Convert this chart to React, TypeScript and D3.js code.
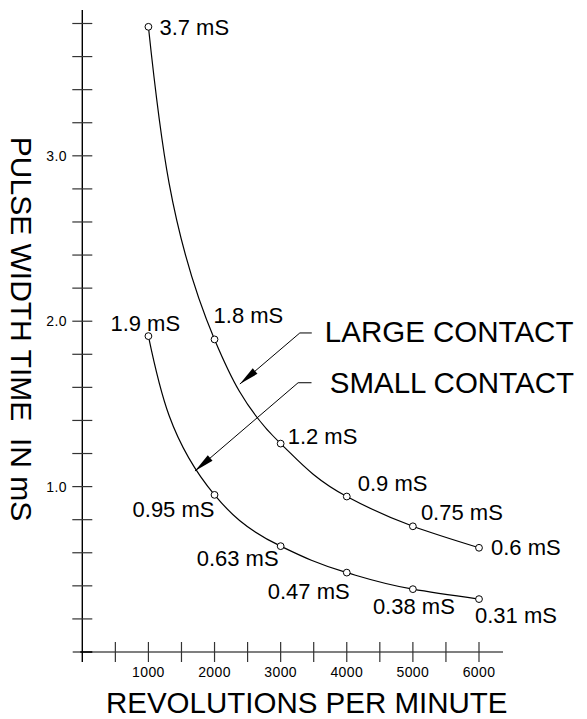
import React from 'react';
import * as d3 from 'd3';

const rpm = [1000, 2000, 3000, 4000, 5000, 6000];
const largeValues = [3.78, 1.89, 1.26, 0.94, 0.76, 0.63];
const smallValues = [1.91, 0.95, 0.64, 0.48, 0.38, 0.32];
const largeLabels = ['3.7 mS', '1.8 mS', '1.2 mS', '0.9 mS', '0.75 mS', '0.6 mS'];
const smallLabels = ['1.9 mS', '0.95 mS', '0.63 mS', '0.47 mS', '0.38 mS', '0.31 mS'];
const xTickValues = [500, 1000, 1500, 2000, 2500, 3000, 3500, 4000, 4500, 5000, 5500, 6000];
const xTickLabels = ['1000', '2000', '3000', '4000', '5000', '6000'];
const yTickValues = [0.2, 0.4, 0.6, 0.8, 1.0, 1.2, 1.4, 1.6, 1.8, 2.0, 2.2, 2.4, 2.6, 2.8, 3.0, 3.2, 3.4, 3.6, 3.8];
const yTickLabels = ['1.0', '2.0', '3.0'];
const seriesNames = ['LARGE CONTACT', 'SMALL CONTACT'];
// annotation anchors in data units: [tip rpm, tip value, elbow rpm, elbow value, end rpm, label rpm, label value]
const largeAnnotation = [2383, 1.62, 3290, 1.929, 3471, 3668, 1.876];
const smallAnnotation = [1704, 1.094, 3264, 1.628, 3467, 3743, 1.564];

// layout: label offsets in px relative to the point (dx, dy of baseline)
const largeOffsets = [[11, 8], [-1, -16], [7, 0], [11, -6], [8, -6], [12, 7]];
const smallOffsets = [[-38, -5], [-82, 22], [-84, 20], [-79, 26], [-40, 25], [-4, 24]];

const W = 587;
const H = 719;
const FONT = '"Liberation Sans", Arial, Helvetica, sans-serif';

export default function App() {
  const x = d3.scaleLinear().domain([0, 6000]).range([82.3, 479]);
  const y = d3.scaleLinear().domain([0, 3.8]).range([652, 23.5]);

  const line = d3
    .line<[number, number]>()
    .x((d) => x(d[0]))
    .y((d) => y(d[1]))
    .curve(d3.curveMonotoneY);

  const largePts: [number, number][] = rpm.map((r, i) => [r, largeValues[i]]);
  const smallPts: [number, number][] = rpm.map((r, i) => [r, smallValues[i]]);

  const x0 = x(0);
  const y0 = y(0);

  const arrow = (a: number[], key: string, name: string) => {
    const tx = x(a[0]);
    const ty = y(a[1]);
    const ex = x(a[2]);
    const ey = y(a[3]);
    const endX = x(a[4]);
    const dx = ex - tx;
    const dy = ey - ty;
    const len = Math.hypot(dx, dy);
    const ux = dx / len;
    const uy = dy / len;
    const L = 20;
    const hw = 3.6;
    const bx = tx + ux * L;
    const by = ty + uy * L;
    const p1 = [bx - uy * hw, by + ux * hw];
    const p2 = [bx + uy * hw, by - ux * hw];
    return (
      <g key={key}>
        <polyline
          points={`${tx},${ty} ${ex},${ey} ${endX},${ey}`}
          fill="none"
          stroke="#000"
          strokeWidth={1}
        />
        <polygon points={`${tx},${ty} ${p1[0]},${p1[1]} ${p2[0]},${p2[1]}`} fill="#000" />
        <text x={x(a[5])} y={y(a[6])} fontSize={29.5} fontFamily={FONT} fill="#000">
          {name}
        </text>
      </g>
    );
  };

  return (
    <svg
      width={W}
      height={H}
      viewBox={`0 0 ${W} ${H}`}
      style={{ position: 'absolute', left: 0, top: 0, background: '#fff' }}
    >
      <rect width={W} height={H} fill="#fff" />
      {/* x axis */}
      <line x1={72.7} x2={503} y1={y0} y2={y0} stroke="#555" strokeWidth={1.4} />
      {xTickValues.map((v) => (
        <line key={`xt${v}`} x1={x(v)} x2={x(v)} y1={y0 - 10} y2={y0 + 10} stroke="#333" strokeWidth={1.2} />
      ))}
      {xTickLabels.map((t) => (
        <text
          key={`xl${t}`}
          x={x(+t)}
          y={676.7}
          textAnchor="middle"
          fontSize={14}
          letterSpacing={0.4}
          fontFamily={FONT}
          fill="#000"
        >
          {t}
        </text>
      ))}
      {/* y axis */}
      <line x1={x0} x2={x0} y1={10} y2={662} stroke="#000" strokeWidth={1.4} />
      {yTickValues.map((v) => (
        <line key={`yt${v}`} x1={x0 - 10} x2={x0 + 10} y1={y(v)} y2={y(v)} stroke="#333" strokeWidth={1.2} />
      ))}
      <line x1={x0 - 2} x2={x0 + 10} y1={y0} y2={y0} stroke="#000" strokeWidth={1.6} />
      {yTickLabels.map((t) => (
        <text
          key={`yl${t}`}
          x={67}
          y={y(+t) + 5}
          textAnchor="end"
          fontSize={14}
          letterSpacing={0.4}
          fontFamily={FONT}
          fill="#000"
        >
          {t}
        </text>
      ))}
      {/* axis titles */}
      <text x={306.7} y={713} textAnchor="middle" fontSize={29.5} fontFamily={FONT} fill="#000">
        REVOLUTIONS PER MINUTE
      </text>
      <text
        transform={`translate(10.5, 329) rotate(90)`}
        textAnchor="middle"
        fontSize={30}
        fontFamily={FONT}
        fill="#000"
        style={{ whiteSpace: 'pre' }}
      >
        {'PULSE WIDTH TIME  IN mS'}
      </text>
      {/* curves */}
      <path d={line(largePts) || ''} fill="none" stroke="#000" strokeWidth={1.2} />
      <path d={line(smallPts) || ''} fill="none" stroke="#000" strokeWidth={1.2} />
      {/* annotations */}
      {arrow(largeAnnotation, 'la', seriesNames[0])}
      {arrow(smallAnnotation, 'sa', seriesNames[1])}
      {/* points */}
      {largePts.map((d, i) => (
        <g key={`lp${i}`}>
          <circle cx={x(d[0])} cy={y(d[1])} r={3.4} fill="#fff" stroke="#000" strokeWidth={1} />
          <text
            x={x(d[0]) + largeOffsets[i][0]}
            y={y(d[1]) + largeOffsets[i][1]}
            fontSize={22}
            fontFamily={FONT}
            fill="#000"
          >
            {largeLabels[i]}
          </text>
        </g>
      ))}
      {smallPts.map((d, i) => (
        <g key={`sp${i}`}>
          <circle cx={x(d[0])} cy={y(d[1])} r={3.4} fill="#fff" stroke="#000" strokeWidth={1} />
          <text
            x={x(d[0]) + smallOffsets[i][0]}
            y={y(d[1]) + smallOffsets[i][1]}
            fontSize={22}
            fontFamily={FONT}
            fill="#000"
          >
            {smallLabels[i]}
          </text>
        </g>
      ))}
    </svg>
  );
}
